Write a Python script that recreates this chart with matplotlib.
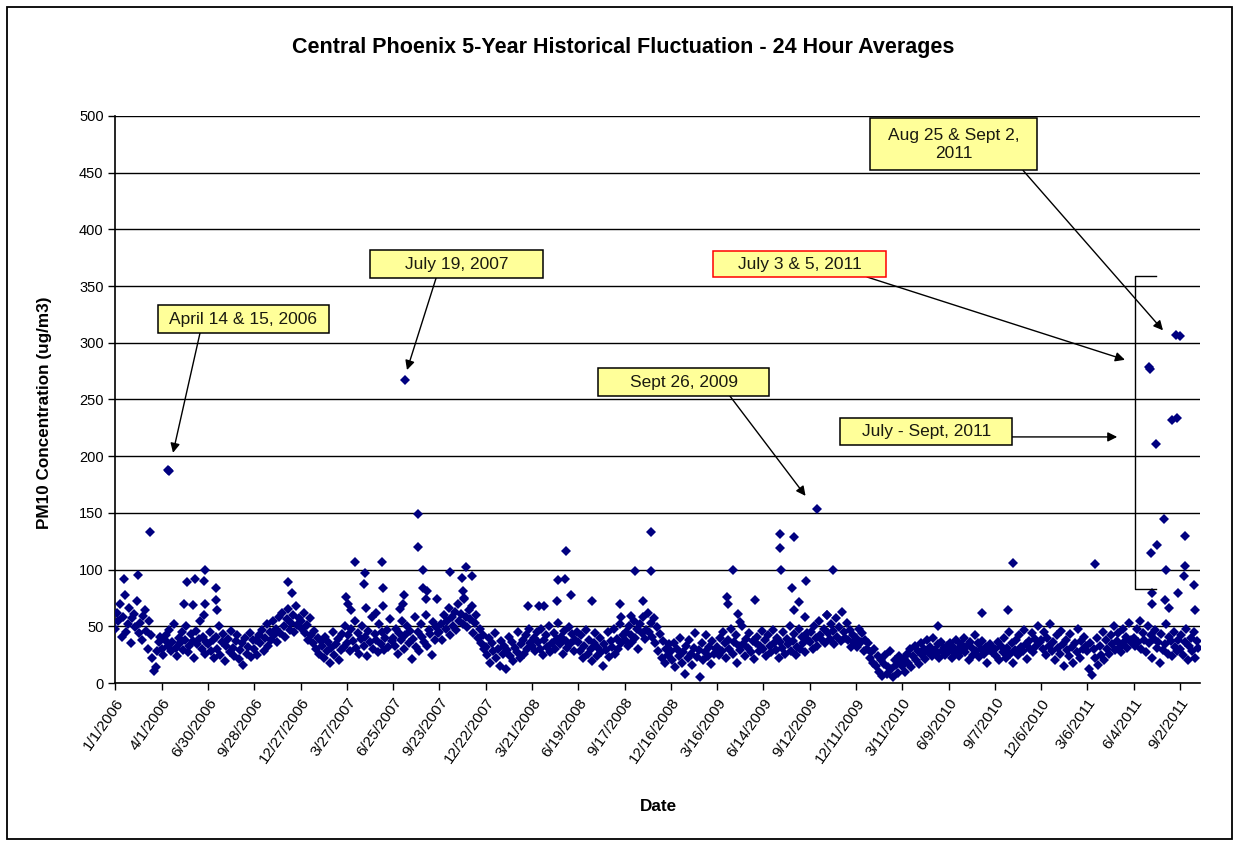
import matplotlib
matplotlib.use('Agg')
import matplotlib.pyplot as plt
import pandas as pd
from matplotlib.patches import Rectangle

plt.rcParams['font.family'] = ['Liberation Sans', 'DejaVu Sans']

# ---------------- data ----------------
start_date = '2006-01-01'
sample_step = '3D'   # one reading every third day

pm10_2006a = [48, 62, 55, 70, 41, 58, 78, 45, 52, 66, 35, 57, 61, 49, 72, 44, 53, 38, 59, 64, 46, 30, 55, 42, 22, 11, 14, 28, 36, 41]
pm10_2006b = [30, 25, 38, 42, 33, 47, 28, 36, 52, 31, 24, 40, 35, 45, 29, 38, 50, 27, 33, 43, 37, 22, 46, 34, 39, 55, 30, 41, 26, 36]
pm10_2006c = [34, 45, 28, 38, 22, 41, 30, 50, 25, 36, 43, 19, 33, 39, 27, 46, 31, 24, 37, 42, 21, 29, 35, 16, 40, 26, 32, 44, 23, 38]
pm10_2006d = [30, 38, 25, 42, 35, 47, 28, 40, 52, 33, 45, 38, 55, 42, 48, 36, 58, 44, 62, 50, 41, 56, 65, 47, 53, 60, 45, 68, 51, 57]
pm10_2007a = [55, 48, 62, 44, 51, 38, 57, 42, 35, 46, 30, 40, 26, 37, 33, 22, 41, 28, 36, 18, 31, 45, 25, 34, 39, 20, 29, 43, 32, 50]
pm10_2007b = [35, 42, 28, 48, 37, 55, 31, 44, 26, 39, 50, 33, 41, 24, 46, 36, 58, 30, 43, 38, 27, 52, 34, 45, 29, 40, 47, 32, 56, 37]
pm10_2007c = [40, 33, 48, 26, 44, 38, 55, 30, 42, 50, 35, 46, 21, 39, 58, 32, 45, 28, 52, 41, 36, 60, 33, 47, 43, 25, 54, 38, 49, 44]
pm10_2007d = [45, 52, 38, 60, 48, 55, 66, 42, 58, 50, 63, 47, 70, 55, 61, 52, 75, 58, 49, 64, 56, 68, 44, 53, 60, 40, 48, 35, 42, 30]
pm10_2008a = [32, 25, 40, 18, 35, 28, 44, 22, 30, 15, 37, 26, 33, 12, 29, 41, 24, 36, 19, 31, 27, 45, 22, 34, 38, 26, 42, 30, 48, 35]
pm10_2008b = [33, 40, 28, 45, 36, 30, 48, 25, 38, 42, 32, 50, 27, 35, 44, 30, 39, 53, 34, 41, 26, 46, 37, 31, 49, 35, 43, 28, 38, 45]
pm10_2008c = [36, 28, 42, 22, 33, 47, 26, 38, 30, 19, 35, 44, 24, 31, 40, 27, 15, 34, 29, 45, 23, 37, 32, 48, 26, 39, 30, 52, 35, 42]
pm10_2008d = [38, 45, 33, 50, 42, 36, 55, 40, 48, 30, 52, 44, 58, 39, 47, 62, 45, 53, 41, 57, 35, 49, 28, 43, 22, 37, 18, 30, 25, 34]
pm10_2009a = [28, 20, 35, 14, 30, 24, 40, 18, 27, 8, 33, 22, 38, 26, 16, 31, 44, 23, 29, 5, 35, 20, 27, 42, 24, 32, 17, 37, 26, 30]
pm10_2009b = [32, 25, 40, 28, 45, 35, 22, 38, 30, 48, 26, 36, 42, 18, 33, 29, 50, 34, 24, 39, 31, 44, 27, 37, 21, 35, 41, 28, 33, 46]
pm10_2009c = [30, 38, 24, 42, 33, 27, 47, 35, 29, 40, 22, 36, 31, 45, 26, 39, 34, 50, 28, 37, 43, 25, 32, 48, 30, 41, 35, 27, 44, 38]
pm10_2009d = [36, 45, 30, 50, 40, 33, 55, 42, 38, 48, 35, 60, 44, 39, 52, 46, 34, 57, 41, 49, 37, 63, 45, 40, 53, 38, 47, 32, 42, 36]
pm10_2010a = [40, 32, 48, 36, 44, 28, 38, 30, 35, 22, 27, 18, 30, 15, 24, 10, 20, 6, 17, 25, 8, 14, 28, 12, 5, 20, 16, 9, 24, 18]
pm10_2010b = [15, 22, 10, 26, 18, 30, 14, 24, 33, 20, 28, 17, 35, 25, 30, 21, 38, 27, 32, 24, 40, 29, 26, 34, 22, 36, 28, 31, 25, 33]
pm10_2010c = [28, 35, 22, 32, 26, 38, 30, 24, 34, 29, 40, 27, 33, 20, 36, 31, 25, 42, 28, 35, 23, 30, 37, 26, 32, 18, 29, 34, 27, 31]
pm10_2010d = [30, 24, 36, 20, 33, 27, 40, 22, 31, 45, 26, 35, 18, 29, 38, 25, 42, 32, 28, 47, 34, 21, 37, 30, 44, 27, 39, 33, 50, 36]
pm10_2011a = [38, 30, 45, 25, 40, 33, 52, 28, 36, 20, 42, 31, 26, 46, 34, 15, 38, 29, 24, 43, 32, 18, 35, 27, 48, 22, 37, 30, 41, 33]
pm10_2011b = [28, 12, 35, 7, 30, 22, 40, 16, 33, 25, 45, 20, 38, 30, 26, 42, 34, 50, 29, 37, 44, 32, 27, 48, 36, 41, 31, 53, 38, 35]
pm10_2011c = [40, 33, 48, 36, 55, 30, 44, 38, 27, 50, 35, 42, 22, 39, 47, 31, 36, 18, 43, 29, 34, 52, 26, 41, 37, 24, 45, 32, 28, 38]
pm10_2011d = [30, 42, 25, 36, 48, 20, 33, 40, 28, 45, 22, 37, 31]

# individually read high days
event_dates = ['2006-01-18', '2006-02-14', '2006-03-09', '2006-04-14', '2006-04-15',
               '2006-05-14', '2006-05-20', '2006-06-01', '2006-06-05', '2006-06-22',
               '2006-06-23', '2006-06-24', '2006-06-25', '2006-07-15', '2006-07-16',
               '2006-07-17', '2006-12-03', '2006-12-10',
               '2007-03-25', '2007-03-30', '2007-04-05', '2007-04-11', '2007-04-29',
               '2007-05-02', '2007-05-04', '2007-05-23', '2007-06-03', '2007-06-05',
               '2007-06-06', '2007-07-09', '2007-07-14', '2007-07-17', '2007-07-19',
               '2007-08-12', '2007-08-13', '2007-08-22', '2007-08-23', '2007-08-27',
               '2007-08-30', '2007-09-18', '2007-10-14', '2007-11-05', '2007-11-08',
               '2007-11-09', '2007-11-14', '2007-11-26',
               '2008-03-13', '2008-04-04', '2008-04-14', '2008-05-09', '2008-05-10',
               '2008-05-24', '2008-05-27', '2008-06-05', '2008-07-16', '2008-09-08',
               '2008-09-10', '2008-09-30', '2008-10-07', '2008-10-23', '2008-11-07',
               '2008-11-08',
               '2009-04-05', '2009-04-06', '2009-04-16', '2009-04-26', '2009-04-30',
               '2009-05-29', '2009-07-16', '2009-07-17', '2009-07-18', '2009-08-09',
               '2009-08-12', '2009-08-13', '2009-08-23', '2009-09-02', '2009-09-04',
               '2009-09-26', '2009-10-16', '2009-10-28',
               '2010-05-20', '2010-08-14', '2010-10-03', '2010-10-13',
               '2011-03-20', '2011-07-03', '2011-07-05', '2011-07-08', '2011-07-09',
               '2011-07-10', '2011-07-18', '2011-07-20', '2011-08-02', '2011-08-04',
               '2011-08-06', '2011-08-12', '2011-08-18', '2011-08-25', '2011-08-28',
               '2011-08-29', '2011-09-02', '2011-09-09', '2011-09-11', '2011-09-12',
               '2011-09-29', '2011-10-01']
event_values = [92, 95, 133, 188, 187,
                70, 89, 69, 92, 60,
                90, 100, 70, 84, 73,
                64, 89, 79,
                76, 70, 64, 107, 87,
                97, 66, 62, 107, 84,
                68, 65, 70, 78, 267,
                120, 149, 100, 84, 74,
                81, 74, 98, 93, 81,
                74, 102, 94,
                68, 68, 68, 72, 91,
                92, 116, 78, 72, 70,
                58, 59, 99, 72, 99,
                133,
                76, 70, 100, 61, 54,
                73, 131, 119, 100, 84,
                64, 129, 71, 58, 90,
                153, 60, 100,
                50, 62, 64, 106,
                105, 279, 277, 115, 79,
                70, 211, 122, 145, 73,
                100, 66, 232, 307, 234,
                79, 306, 94, 103, 130,
                86, 64]

tick_labels = ['1/1/2006', '4/1/2006', '6/30/2006', '9/28/2006', '12/27/2006', '3/27/2007',
               '6/25/2007', '9/23/2007', '12/22/2007', '3/21/2008', '6/19/2008', '9/17/2008',
               '12/16/2008', '3/16/2009', '6/14/2009', '9/12/2009', '12/11/2009', '3/11/2010',
               '6/9/2010', '9/7/2010', '12/6/2010', '3/6/2011', '6/4/2011', '9/2/2011']
y_ticks = [0, 50, 100, 150, 200, 250, 300, 350, 400, 450, 500]

# ---------------- assemble ----------------
start = pd.Timestamp(start_date)
regular_values = (pm10_2006a + pm10_2006b + pm10_2006c + pm10_2006d +
                  pm10_2007a + pm10_2007b + pm10_2007c + pm10_2007d +
                  pm10_2008a + pm10_2008b + pm10_2008c + pm10_2008d +
                  pm10_2009a + pm10_2009b + pm10_2009c + pm10_2009d +
                  pm10_2010a + pm10_2010b + pm10_2010c + pm10_2010d +
                  pm10_2011a + pm10_2011b + pm10_2011c + pm10_2011d)
regular_dates = pd.date_range(start, periods=len(regular_values), freq=sample_step)
regular_days = (regular_dates - start).days.to_numpy()
event_days = (pd.to_datetime(event_dates) - start).days.to_numpy()
tick_days = (pd.to_datetime(tick_labels, format='%m/%d/%Y') - start).days.to_numpy()

W, H = 1239, 846
fig = plt.figure(figsize=(W / 100, H / 100), dpi=100)
fig.patch.set_facecolor('white')

ax_l, ax_r, ax_t, ax_b = 115.4, 1200, 116, 683
ax = fig.add_axes([ax_l / W, 1 - ax_b / H, (ax_r - ax_l) / W, (ax_b - ax_t) / H])

navy = '#000080'
ax.plot(regular_days, regular_values, linestyle='none', marker='D', markersize=5.0,
        color=navy, markeredgewidth=0, zorder=3)
ax.plot(event_days, event_values, linestyle='none', marker='D', markersize=5.0,
        color=navy, markeredgewidth=0, zorder=3)

ax.set_xlim(0, 2109)
ax.set_ylim(0, 500)
ax.set_yticks(y_ticks)
ax.set_xticks(tick_days)
ax.set_xticklabels(tick_labels, rotation=55, ha='right', va='top', rotation_mode='anchor',
                   fontsize=11)
ax.tick_params(axis='both', direction='out', length=5, width=1, colors='black')
ax.tick_params(axis='y', labelsize=10.5)
ax.tick_params(axis='x', pad=4)
ax.yaxis.grid(True, color='black', linewidth=1)
ax.set_axisbelow(True)
for s in ['top', 'right']:
    ax.spines[s].set_visible(False)
for s in ['left', 'bottom']:
    ax.spines[s].set_linewidth(1.2)
    ax.spines[s].set_color('black')

fig.text(45 / W, 1 - 413 / H, 'PM10 Concentration (ug/m3)', rotation=90,
         ha='center', va='center', fontsize=12.3, fontweight='bold')
fig.text(658 / W, 1 - 806 / H, 'Date', ha='center', va='center',
         fontsize=12.3, fontweight='bold')
fig.text(623.5 / W, 1 - 48 / H,
         'Central Phoenix 5-Year Historical Fluctuation - 24 Hour Averages',
         ha='center', va='center', fontsize=15.5, fontweight='bold')

# ---------------- call-out boxes ----------------
box_fill = '#FFFF99'
callouts = [
    # text, (x0, x1) days, (y0, y1) values, tail, head, edge colour
    ('April 14 & 15, 2006', (82, 416), (308.6, 333.3), (164.5, 308.6), (112, 203), 'black'),
    ('July 19, 2007', (495, 832), (357, 381.8), (623.5, 357), (567, 276), 'black'),
    ('Sept 26, 2009', (939, 1271), (253, 277.8), (1195, 253), (1342, 165), 'black'),
    ('July 3 & 5, 2011', (1162, 1499), (358, 380.9), (1461.6, 358), (1963, 285), 'red'),
    ('Aug 25 & Sept 2,\n2011', (1467, 1792), (452, 498), (1765, 452), (2037, 311), 'black'),
    ('July - Sept, 2011', (1409, 1744), (209.9, 233.7), (1744, 217), (1948, 217), 'black'),
]
for text, (x0, x1), (y0, y1), tail, head, ec in callouts:
    ax.add_patch(Rectangle((x0, y0), x1 - x0, y1 - y0, facecolor=box_fill, edgecolor=ec,
                           linewidth=1.1, zorder=5, clip_on=False))
    ax.text((x0 + x1) / 2, (y0 + y1) / 2, text, ha='center', va='center', fontsize=12.5,
            color='#1a1a10', zorder=6, linespacing=1.3, clip_on=False)
    ax.annotate('', xy=head, xytext=tail, zorder=4,
                arrowprops=dict(arrowstyle='-|>', color='black', lw=1.0,
                                mutation_scale=14, shrinkA=0, shrinkB=0))

# bracket around July - Sept 2011
bx0, bx1, by0, by1 = 1983, 2023.5, 83, 359
ax.plot([bx1, bx0, bx0, bx1], [by1, by1, by0, by0], color='black', lw=1.0, zorder=4,
        clip_on=False)

# outer frame
fig.add_artist(Rectangle((7 / W, 7 / H), (1232 - 7) / W, (839 - 7) / H,
                         transform=fig.transFigure, fill=False, edgecolor='black', lw=1.3))

fig.savefig('out.png', dpi=100, facecolor='white')
